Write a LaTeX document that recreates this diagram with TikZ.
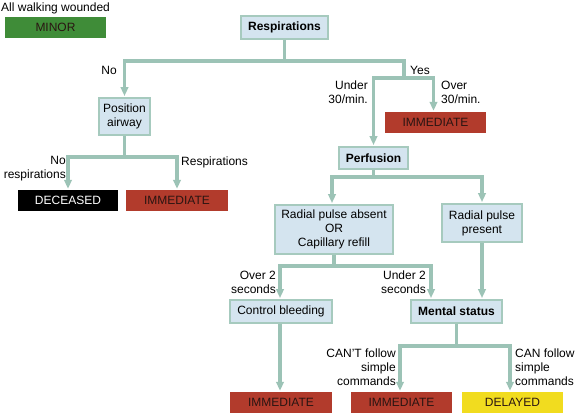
\documentclass[tikz,border=0pt]{standalone}
\usepackage{fontspec}
\setmainfont{Liberation Sans}
\usetikzlibrary{arrows.meta}
\definecolor{boxfill}{HTML}{D4E4EF}
\definecolor{boxline}{HTML}{A6CABE}
\definecolor{conn}{HTML}{9CC3B6}
\definecolor{redbox}{HTML}{B23B2C}
\definecolor{greenbox}{HTML}{3F8C38}
\definecolor{yellowbox}{HTML}{F1DC1F}
\definecolor{darktext}{HTML}{2A1512}
\tikzset{
  every node/.style={font=\fontsize{12}{14}\selectfont},
  qbox/.style={draw=boxline, line width=1.8pt, fill=boxfill, inner sep=0pt, align=center},
  cat/.style={inner sep=0pt, minimum width=101pt, minimum height=21pt, align=center},
  lbl/.style={inner sep=0pt},
  conline/.style={draw=conn, line width=3.2pt},
  conarrow/.style={conline, -{Triangle[length=9pt,width=7.5pt]}, shorten >=1pt},
}
\begin{document}
\begin{tikzpicture}[x=1pt,y=-1pt]
\useasboundingbox (0,0) rectangle (576,414);
\fill[white] (0,0) rectangle (576,414);

% text and category boxes
\node[lbl, anchor=west] (walk) at (1,8) {All walking wounded};
\node[cat, fill=greenbox, text=darktext] (minor) at (55.5,27.5) {MINOR};

\node[qbox, minimum width=87pt, minimum height=23pt] (resp) at (284.5,27.5) {\bfseries Respirations};
\node[qbox, minimum width=51pt, minimum height=37pt] (pos) at (124.5,116.5) {Position\\airway};
\node[cat, fill=redbox, text=darktext] (imm1) at (435.5,122.5) {IMMEDIATE};
\node[cat, minimum width=100pt, fill=black, text=white] (dec) at (68,200.5) {DECEASED};
\node[cat, minimum width=102pt, fill=redbox, text=darktext] (imm2) at (177,200.5) {IMMEDIATE};
\node[qbox, minimum width=69pt, minimum height=22pt] (perf) at (373.5,158) {\bfseries Perfusion};
\node[qbox, minimum width=118pt, minimum height=49pt] (rpa) at (334,229.5) {Radial pulse absent\\OR\\Capillary refill};
\node[qbox, minimum width=80pt, minimum height=38pt] (rpp) at (482,223) {Radial pulse\\present};
\node[qbox, minimum width=102pt, minimum height=23pt] (cb) at (281,311.5) {Control bleeding};
\node[qbox, minimum width=91pt, minimum height=23pt] (ms) at (456.5,311.5) {\bfseries Mental status};
\node[cat, minimum width=102pt, fill=redbox, text=darktext] (imm3) at (281,402.5) {IMMEDIATE};
\node[cat, fill=redbox, text=darktext] (imm4) at (401.5,402.5) {IMMEDIATE};
\node[cat, fill=yellowbox, text=darktext] (del) at (512.5,402.5) {DELAYED};

% junctions
\coordinate (j1) at (284.5,61);
\coordinate (ys) at (404,78);
\coordinate (j2) at (124.5,157);
\coordinate (j3) at (373.5,177);
\coordinate (j4) at (334,266);
\coordinate (j5) at (456.5,346);

% connectors
\draw[conline] (resp.south) -- (j1);
\draw[conarrow] (j1) -| (pos.north);
\draw[conline] (j1) -| (ys);
\draw[conarrow] (ys) -| ([xshift=-2pt]imm1.north);
\draw[conarrow] (ys) -| (perf.north);

\draw[conline] (pos.south) -- (j2);
\draw[conarrow] (j2) -| (dec.north);
\draw[conarrow] (j2) -| (imm2.north);

\draw[conline] (perf.south) -- (j3);
\draw[conarrow] (j3) -| ([xshift=-2pt]rpa.north);
\draw[conarrow] (j3) -| (rpp.north);

\draw[conline] (rpa.south) -- (j4);
\draw[conarrow] (j4) -| ([xshift=-1pt]cb.north);
\draw[conarrow] (j4) -| ([xshift=-25.5pt]ms.north);
\draw[conarrow] (rpp.south) -- (rpp.south |- ms.north);

\draw[conarrow] ([xshift=-1pt]cb.south) -- ([xshift=-1pt]imm3.north);
\draw[conline] (ms.south) -- (j5);
\draw[conarrow] (j5) -| ([xshift=-1.5pt]imm4.north);
\draw[conarrow] (j5) -| ([xshift=-2.5pt]del.north);

% labels
\node[lbl, anchor=east] (lno) at (117,70) {No};
\node[lbl, anchor=west] (lyes) at (410,70) {Yes};
\node[lbl, anchor=east, align=right] (lunder) at (368,92.5) {Under\\30/min.};
\node[lbl, anchor=west, align=left] (lover) at (441,92.5) {Over\\30/min.};
\node[lbl, anchor=east, align=right] (lnoresp) at (66,169) {No\\respirations};
\node[lbl, anchor=west] (lresp) at (181,162) {Respirations};
\node[lbl, anchor=east, align=right] (lover2) at (276,282) {Over 2\\seconds};
\node[lbl, anchor=east, align=right] (lunder2) at (426,282) {Under 2\\seconds};
\node[lbl, anchor=east, align=right] (lcant) at (396,367) {CAN’T follow\\simple\\commands};
\node[lbl, anchor=west, align=left] (lcan) at (515,367) {CAN follow\\simple\\commands};
\end{tikzpicture}
\end{document}
